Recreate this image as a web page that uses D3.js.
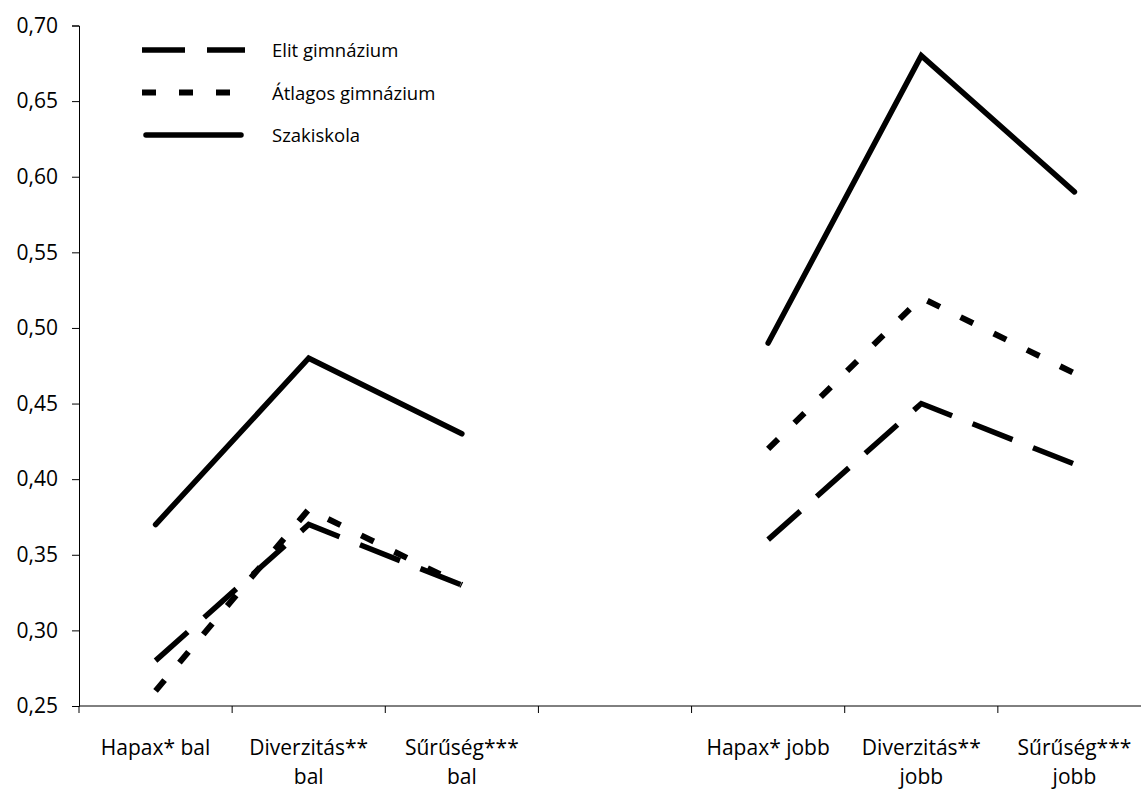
<!DOCTYPE html>
<html>
<head>
<meta charset="utf-8">
<script src="https://d3js.org/d3.v7.min.js"></script>
<style>
body{margin:0;background:#fff}
text{font-family:"Open Sans",sans-serif;fill:#000}
</style>
</head>
<body>
<div id="chartDiv"></div>
<script>
//---data---
var Categories=["Hapax* bal","Diverzitás** bal","Sűrűség*** bal","","Hapax* jobb","Diverzitás** jobb","Sűrűség*** jobb"]
var SeriesNames=["Elit gimnázium","Átlagos gimnázium","Szakiskola"]
var EliteValues=[0.28,0.37,0.33,null,0.36,0.45,0.41]
var AverageValues=[0.26,0.38,0.33,null,0.42,0.52,0.47]
var VocationalValues=[0.37,0.48,0.43,null,0.49,0.68,0.59]
var YTicks=[0.25,0.30,0.35,0.40,0.45,0.50,0.55,0.60,0.65,0.70]

var Width=1141
var Height=789
var Left=79
var Right=1151
var Top=25.5
var Bottom=706

var ChartSVG=d3.select("#chartDiv").append("svg")
 .attr("width",Width).attr("height",Height)

var X=d3.scaleBand().domain(Categories).range([Left,Right]).padding(0)
var Y=d3.scaleLinear().domain([0.25,0.70]).range([Bottom,Top])

//---y axis---
var yAxis=d3.axisLeft(Y).tickValues(YTicks).tickSize(7).tickPadding(14)
 .tickFormat(function(d){return d3.format(".2f")(d).replace(".",",")})
var yG=ChartSVG.append("g").attr("transform","translate("+Left+",0)").call(yAxis)
yG.selectAll("text").style("font-size","21px")
yG.selectAll("line,path").attr("stroke","#000")

//---x axis: line + ticks between categories---
var xG=ChartSVG.append("g")
xG.append("line").attr("x1",Left).attr("x2",Right).attr("y1",Bottom).attr("y2",Bottom).attr("stroke","#000")
var edges=Categories.map(function(c){return X(c)}).concat([Right])
xG.selectAll(".tick").data(edges).enter().append("line")
 .attr("x1",function(d){return d}).attr("x2",function(d){return d})
 .attr("y1",Bottom).attr("y2",Bottom+7).attr("stroke","#000")

//---category labels, wrapped to band width---
var labelG=xG.selectAll(".lab").data(Categories).enter().append("text")
 .attr("text-anchor","middle").style("font-size","21px")
 .attr("x",function(d){return X(d)+X.bandwidth()/2})
 .attr("y",Bottom+49)
labelG.each(function(d){
 var t=d3.select(this)
 var words=d.split(" ")
 var line=[]
 var tspan=t.append("tspan").attr("x",t.attr("x")).attr("dy",0)
 words.forEach(function(w){
   line.push(w)
   tspan.text(line.join(" "))
   if(tspan.node().getComputedTextLength()>X.bandwidth()-10 && line.length>1)
   {
     line.pop()
     tspan.text(line.join(" "))
     line=[w]
     tspan=t.append("tspan").attr("x",t.attr("x")).attr("dy","29px").text(w)
   }
 })
})

//---series lines---
var lineGen=d3.line()
 .defined(function(d){return d!=null})
 .x(function(d,i){return X(Categories[i])+X.bandwidth()/2})
 .y(function(d){return Y(d)})

var Styles=[
 {values:EliteValues,dash:"43,22",cap:"butt",width:5.5},
 {values:AverageValues,dash:"14,23",cap:"butt",width:6},
 {values:VocationalValues,dash:null,cap:"round",width:5.5}
]
Styles.forEach(function(s){
 ChartSVG.append("path")
  .attr("d",lineGen(s.values))
  .attr("fill","none")
  .attr("stroke","#000")
  .attr("stroke-width",s.width)
  .attr("stroke-linecap",s.cap)
  .attr("stroke-linejoin","miter")
  .attr("stroke-dasharray",s.dash)
})

//---legend---
var LegendG=ChartSVG.append("g")
SeriesNames.forEach(function(n,i){
 var yy=50+i*42.5
 var s=Styles[i]
 LegendG.append("line")
  .attr("x1",s.cap=="round"?146:142).attr("x2",s.cap=="round"?241:245)
  .attr("y1",yy).attr("y2",yy)
  .attr("stroke","#000").attr("stroke-width",s.width)
  .attr("stroke-linecap",s.cap).attr("stroke-dasharray",s.dash)
 LegendG.append("text").attr("x",272).attr("y",yy+7).style("font-size","18.5px").text(n)
})
</script>
</body>
</html>
